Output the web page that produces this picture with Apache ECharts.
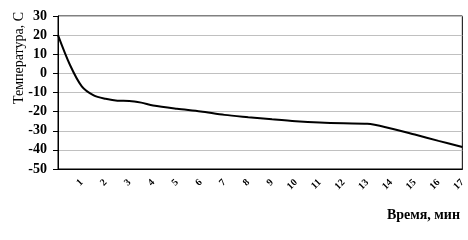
<!DOCTYPE html>
<html>
<head>
<meta charset="utf-8">
<script src="https://cdn.jsdelivr.net/npm/echarts@6/dist/echarts.min.js"></script>
<style>html,body{margin:0;padding:0;background:#fff}#c{width:468px;height:240px}</style>
</head>
<body>
<div id="c"></div>
<script>
// Time, min
var times = [0, 0.5, 1, 1.5, 2, 2.5, 3, 3.5, 4, 5, 6, 7, 8, 9, 10, 11, 12, 13, 14, 15, 16, 17];
// Temperature, C
var temps = [20, 4.5, -6.8, -11.5, -13.3, -14.3, -14.4, -15.3, -16.8, -18.5, -19.9, -21.7, -22.9, -24, -25, -25.7, -26.1, -26.3, -28.8, -32, -35.3, -38.5];
var xTickLabels = ['1','2','3','4','5','6','7','8','9','10','11','12','13','14','15','16','17'];
var yMin = -50, yMax = 30, yStep = 10;
var yTitle = 'Температура, С';
var xTitle = 'Время, мин';

var points = times.map(function (t, i) { return [t, temps[i]]; });
var chart = echarts.init(document.getElementById('c'), null, {renderer: 'canvas'});
chart.setOption({
  animation: false,
  backgroundColor: '#fff',
  grid: {left: 58, right: 5, top: 16, bottom: 71, show: true, borderColor: '#000', borderWidth: 1, containLabel: false},
  xAxis: {
    type: 'value', min: 0, max: xTickLabels.length, interval: 1,
    axisLine: {show: true, onZero: false, lineStyle: {color: '#000', width: 1}},
    axisTick: {show: false},
    splitLine: {show: false},
    axisLabel: {
      rotate: 45, margin: 12, color: '#000', fontFamily: 'Liberation Serif', fontWeight: 'bold', fontSize: 10,
      formatter: function (v) { var k = Math.round(v); return k >= 1 ? xTickLabels[k - 1] : ''; }
    }
  },
  yAxis: {
    type: 'value', min: yMin, max: yMax, interval: yStep,
    axisLine: {show: true, onZero: false, lineStyle: {color: '#000', width: 1}},
    axisTick: {show: true, length: 5, lineStyle: {color: '#000'}},
    splitLine: {show: true, lineStyle: {color: '#c0c0c0', width: 1}},
    axisLabel: {margin: 11, color: '#000', fontFamily: 'Liberation Serif', fontWeight: 'bold', fontSize: 14}
  },
  graphic: [
    {type: 'text', x: 19, y: 58, rotation: Math.PI / 2,
     style: {text: yTitle, fill: '#000', font: '14px "Liberation Serif"', align: 'center', verticalAlign: 'middle'}},
    {type: 'text', x: 460, y: 215,
     style: {text: xTitle, fill: '#000', font: 'bold 14px "Liberation Serif"', align: 'right', verticalAlign: 'middle'}}
  ],
  series: [{
    type: 'line', data: points, showSymbol: false, smooth: 0.3,
    lineStyle: {color: '#000', width: 2}
  }]
});
</script>
</body>
</html>
